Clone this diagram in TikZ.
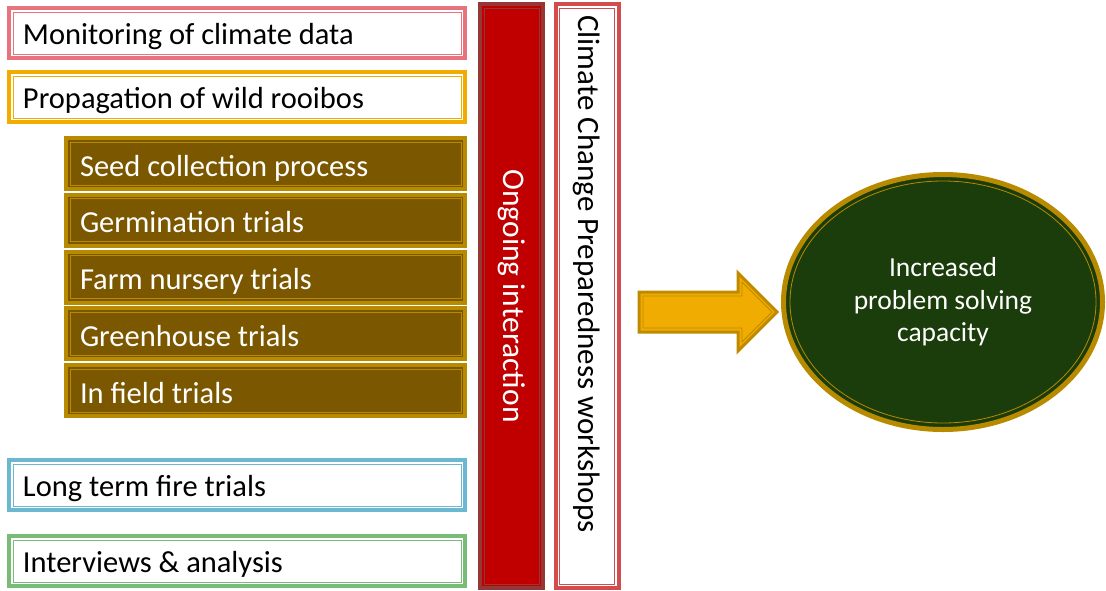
\documentclass[tikz,border=0pt]{standalone}
\usepackage{fontspec}
\setmainfont{Carlito}
\usetikzlibrary{shapes.geometric}
\definecolor{pinkb}{HTML}{E8737F}
\definecolor{orangeb}{HTML}{F2AC00}
\definecolor{brownf}{HTML}{7B5800}
\definecolor{goldb}{HTML}{B88A00}
\definecolor{blueb}{HTML}{6CB8D0}
\definecolor{greenb}{HTML}{78BC78}
\definecolor{redf}{HTML}{C00000}
\definecolor{redb}{HTML}{953735}
\definecolor{climb}{HTML}{D24C4E}
\definecolor{arrowf}{HTML}{F0AC00}
\definecolor{arrowb}{HTML}{BF8A00}
\definecolor{ellf}{HTML}{1B3C0B}
\tikzset{
  inframe/.style={path picture={\draw[#1,line width=1pt]
      ([xshift=4pt,yshift=4pt]path picture bounding box.south west) rectangle
      ([xshift=-4pt,yshift=-4pt]path picture bounding box.north east);}},
  natspace/.style={execute at begin node={\spaceskip=0pt\xspaceskip=0pt\relax}},
  wbox/.style={draw=#1, line width=4pt, fill=white, minimum height=50pt,
    text width=428pt, inner xsep=14pt, inner ysep=0pt, align=left, anchor=north west,
    text height=23pt, text depth=0pt, natspace,
    font=\fontsize{30.5}{36}\selectfont, text=black, inframe=#1},
  bbox/.style={draw=goldb, line width=4pt, fill=brownf, minimum height=51pt,
    text width=371pt, inner xsep=14pt, inner ysep=0pt, align=left, anchor=north west,
    text height=25pt, text depth=0pt, natspace,
    font=\fontsize{30.5}{36}\selectfont, text=white, inframe=goldb},
  bar/.style 2 args={draw=#1, fill=#2, line width=4pt, minimum width=63pt,
    minimum height=584pt, inner sep=0pt, inframe=#1},
  vtext/.style={rotate=-90, inner sep=0pt, font=\fontsize{31}{36}\selectfont},
}
\begin{document}
\begin{tikzpicture}[x=1pt,y=-1pt]
\useasboundingbox (0,0) rectangle (1106,590);
% left boxes
\node[wbox=pinkb] (mon) at (7,6) {Monitoring of climate data};
\node[wbox=orangeb] (prop) at (7,70) {Propagation of wild rooibos};
\node[bbox] (seed) at (64,136) {Seed collection process};
\node[bbox] (germ) at (64,192.8) {Germination trials};
\node[bbox] (farm) at (64,249.6) {Farm nursery trials};
\node[bbox] (green) at (64,306.4) {Greenhouse trials};
\node[bbox] (field) at (64,363.2) {In field trials};
\node[wbox=blueb] (fire) at (7,458) {Long term fire trials};
\node[wbox=greenb] (int) at (7,534) {Interviews \& analysis};
% vertical bars
\node[bar={redb}{redf}] (red) at (511.5,296) {};
\node[vtext, text=white, font=\fontsize{31.5}{36}\selectfont] (ongo) at (red.center) {Ongoing interaction};
\node[bar={climb}{white}] (clim) at (587,296) {};
\node[vtext, text=black, anchor=west] (cct) at (587,15) {Climate Change Preparedness workshops};
% block arrow
\draw[draw=arrowb, fill=arrowf, line width=3pt, line join=miter]
  (639,292) -- (738,292) -- (738,273) -- (777,312) -- (738,351) -- (738,332) -- (639,332) -- cycle;
\draw[draw=arrowb, line width=0.8pt, line join=miter]
  (643,296) -- (742,296) -- (742,282) -- (772,312) -- (742,342) -- (742,328) -- (643,328) -- cycle;
% ellipse
\node[ellipse, draw=goldb, fill=ellf, line width=5pt, minimum width=319pt,
  minimum height=255pt, inner sep=0pt, text=white, align=center,
  font=\fontsize{27.5}{32.5}\selectfont,
  path picture={\draw[goldb,line width=0.8pt] (path picture bounding box.center)
    ellipse [x radius=153pt, y radius=121pt];}] (res) at (943,302)
  {Increased\\problem solving\\capacity};
\end{tikzpicture}
\end{document}
